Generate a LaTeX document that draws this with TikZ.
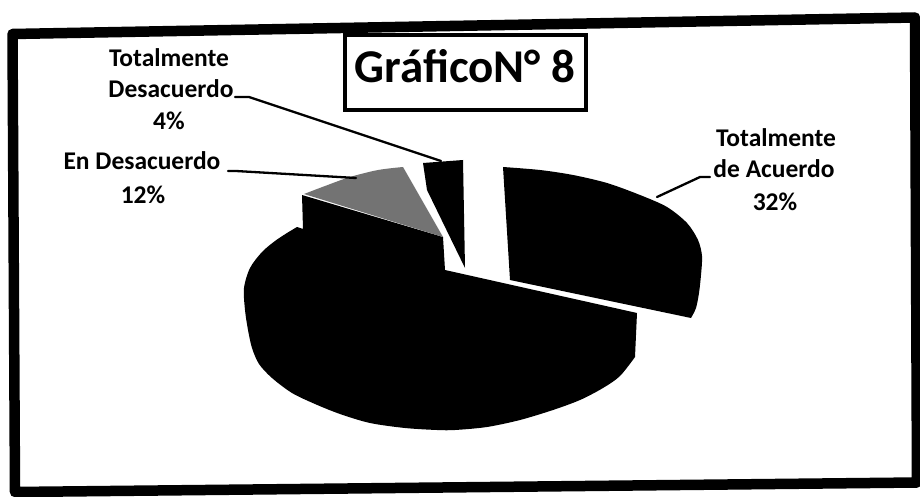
\documentclass[tikz,border=0pt]{standalone}
\usepackage{fontspec}
\setmainfont{Carlito}
\begin{document}
\begin{tikzpicture}[x=1pt,y=-1pt,
  lbl/.style={font=\bfseries\fontsize{25.5}{31}\selectfont, anchor=base, inner sep=0pt},
  titlebox/.style={draw, line width=4pt, font=\bfseries\fontsize{47}{56}\selectfont,
     minimum width=241pt, minimum height=75pt, text height=30pt, text depth=9pt, inner sep=0pt},
  frameline/.style={line width=10.5pt, line join=round},
  leader/.style={line width=2.3pt, line cap=round, line join=round},
  darkslice/.style={fill=black},
  grayslice/.style={fill=black!55}]
\useasboundingbox (0,0) rectangle (920,497);
% outer frame
\draw[frameline] (12.5,34) -- (915,17.5) -- (917,482.5) -- (15,492) -- cycle;
% title
\node[titlebox] (title) at (465,72.5) {GráficoN° 8};
% big slice (52%) with the side face of the 12% slice
\fill[darkslice] (443,237) -- (445,270) -- (637,313) -- plot[smooth] coordinates {(635,357) (620,376) (603,388) (580,400) (553,410) (520,420) (487,427) (455,430) (437,430) (405,428) (370,423) (340,414) (315,404) (292,393) (272,378) (259,364) (252,348) (248,330) (245,310) (244,288) (250,268) (262,252) (275,241) (287,233) (297,227)} -- (303,229) -- (302,195) -- cycle;
% 12% slice top face
\fill[grayslice] plot[smooth] coordinates {(304,194) (325,186) (350,177) (378,170) (403,167)} -- (443,237) -- cycle;
% 4% slice
\fill[darkslice] (423,163) -- (463,160) -- (465,268) -- (427,190) -- cycle;
% 32% slice
\fill[darkslice] plot[smooth] coordinates {(503,167) (540,170) (573,175) (607,183) (640,195) (667,207) (687,223) (698,240) (702,256) (701,275) (699,293) (696,308) (691,318)} -- (510,280) -- cycle;
% labels
\node[lbl] (td1) at (169,67) {Totalmente};
\node[lbl] (td2) at (171,98) {Desacuerdo};
\node[lbl] (td3) at (169,130) {4\%};
\node[lbl] (ed1) at (142,170) {En Desacuerdo};
\node[lbl] (ed2) at (143,203) {12\%};
\node[lbl] (ta1) at (776,147) {Totalmente};
\node[lbl] (ta2) at (774,178) {de Acuerdo};
\node[lbl] (ta3) at (775,210) {32\%};
% leader lines
\coordinate (td) at (235,97);
\coordinate (tdk) at (249,97);
\coordinate (tdp) at (441,161);
\coordinate (ed) at (228,171);
\coordinate (edk) at (236,171);
\coordinate (edp) at (356,178);
\coordinate (ta) at (710,177);
\coordinate (tak) at (700,177);
\coordinate (tap) at (657,197);
\draw[leader] (td) -- (tdk) -- (tdp);
\draw[leader] (ed) -- (edk) -- (edp);
\draw[leader] (ta) -- (tak) -- (tap);
\end{tikzpicture}
\end{document}
